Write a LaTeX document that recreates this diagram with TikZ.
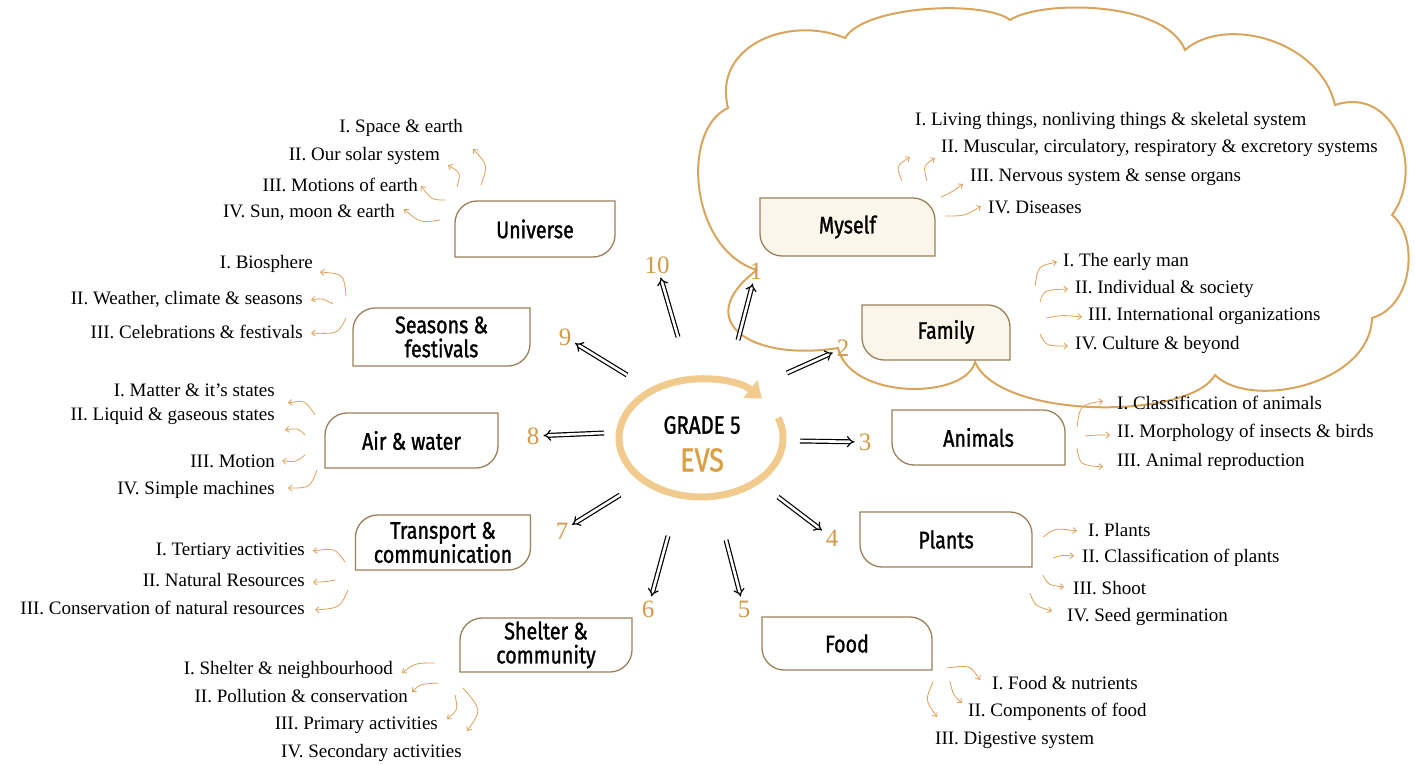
\documentclass[tikz,border=0pt]{standalone}
\usepackage{fontspec}
\setmainfont{Liberation Serif}
\newfontfamily\boxfont[FakeStretch=0.82,FakeBold=1.2]{Fira Sans}
\usetikzlibrary{arrows.meta,shapes.geometric}
\definecolor{ringc}{HTML}{F1CB8E}
\definecolor{numc}{HTML}{D49A48}
\definecolor{subc}{HTML}{E0A058}
\definecolor{cloudc}{HTML}{D9A55C}
\definecolor{boxc}{HTML}{9A8058}
\definecolor{evsc}{HTML}{D9A045}
\definecolor{cream}{HTML}{FCF6EA}
\tikzset{
 boxline/.style={draw=boxc, line width=1.3pt},
 bxframe/.style={inner sep=0pt, outer sep=0pt},
 lbl/.style={font=\boxfont\fontsize{24}{24}\selectfont, align=center, inner sep=0pt},
 item/.style={font=\fontsize{19}{21}\selectfont, inner sep=0pt},
 num/.style={font=\fontsize{25}{25}\selectfont, text=numc, inner sep=2pt},
 dbl/.style={double, double distance=2.6pt, line width=1.2pt, -{Implies}, shorten >=2pt},
 sub/.style={draw=subc, line width=0.8pt, -{Straight Barb[length=3.5pt,width=6pt]}},
}
% top-left and bottom-right rounded
\newcommand\lshape[2][white]{%
 \draw[boxline, fill=#1] (#2.south west) -- ([yshift=-22pt]#2.north west)
  .. controls ([yshift=-10pt]#2.north west) and ([xshift=10pt]#2.north west) .. ([xshift=22pt]#2.north west)
  -- (#2.north east) -- ([yshift=22pt]#2.south east)
  .. controls ([yshift=10pt]#2.south east) and ([xshift=-10pt]#2.south east) .. ([xshift=-22pt]#2.south east) -- cycle;}
% top-right and bottom-left rounded
\newcommand\rshape[2][white]{%
 \draw[boxline, fill=#1] (#2.north west) -- ([xshift=-22pt]#2.north east)
  .. controls ([xshift=-10pt]#2.north east) and ([yshift=-10pt]#2.north east) .. ([yshift=-22pt]#2.north east)
  -- (#2.south east) -- ([xshift=22pt]#2.south west)
  .. controls ([xshift=10pt]#2.south west) and ([yshift=10pt]#2.south west) .. ([yshift=22pt]#2.south west) -- cycle;}
\begin{document}
\begin{tikzpicture}[x=1pt,y=1pt]
\fill[white] (0,0) rectangle (1415,-765);
\useasboundingbox (0,0) rectangle (1415,-765);

% cloud
\draw[cloudc, line width=2pt] (757,-270)
 .. controls (690,-250) and (680,-130) .. (728,-108)
 .. controls (712,-45) and (790,-15) .. (845,-38)
 .. controls (865,-5) and (985,0) .. (1010,-20)
 .. controls (1040,0) and (1165,0) .. (1185,-50)
 .. controls (1225,-15) and (1320,-40) .. (1335,-105)
 .. controls (1395,-85) and (1425,-170) .. (1392,-215)
 .. controls (1418,-235) and (1415,-305) .. (1372,-318)
 .. controls (1370,-385) and (1250,-410) .. (1215,-375)
 .. controls (1190,-420) and (1000,-420) .. (975,-362)
 .. controls (965,-400) and (850,-400) .. (838,-348)
 .. controls (750,-362) and (690,-320) .. (757,-270);

% centre ring
\draw[ringc, line width=7pt, -{Triangle[length=15pt,width=22pt]}]
 (778.1,-417.8) arc[start angle=20, end angle=-318, x radius=82pt, y radius=59pt];
\node[font=\boxfont\fontsize{25}{25}\selectfont, inner sep=0pt] (grade) at (702,-425) {GRADE 5};
\node[font=\boxfont\fontsize{33}{33}\selectfont, text=evsc, inner sep=0pt] (evs) at (702,-460) {EVS};

% boxes
\node[bxframe, minimum width=160pt, minimum height=56pt] (universe) at (535,-229) {};
\lshape{universe}
\node[lbl] (universe-t) at (universe) {Universe};
\node[bxframe, minimum width=175pt, minimum height=58pt] (myself) at (847.5,-227) {};
\rshape[cream]{myself}
\node[lbl] (myself-t) at (myself) {Myself};
\node[bxframe, minimum width=177pt, minimum height=58pt] (seasons) at (441.5,-337) {};
\lshape{seasons}
\node[lbl] (seasons-t) at (seasons) {Seasons \&\\festivals};
\node[bxframe, minimum width=148pt, minimum height=55pt] (family) at (936,-332.5) {};
\rshape[cream]{family}
\node[lbl] (family-t) at (946,-332) {Family};
\node[bxframe, minimum width=173pt, minimum height=55pt] (air) at (411.5,-440.5) {};
\lshape{air}
\node[lbl] (air-t) at (air) {Air \& water};
\node[bxframe, minimum width=173pt, minimum height=55pt] (animals) at (978.5,-437.5) {};
\rshape{animals}
\node[lbl] (animals-t) at (animals) {Animals};
\node[bxframe, minimum width=175pt, minimum height=55pt] (transport) at (443,-542.5) {};
\lshape{transport}
\node[lbl] (transport-t) at (transport) {Transport \&\\communication};
\node[bxframe, minimum width=172pt, minimum height=55pt] (plants) at (946,-539.5) {};
\rshape{plants}
\node[lbl] (plants-t) at (plants) {Plants};
\node[bxframe, minimum width=172pt, minimum height=54pt] (shelter) at (546,-645) {};
\lshape{shelter}
\node[lbl] (shelter-t) at (shelter) {Shelter \&\\community};
\node[bxframe, minimum width=170pt, minimum height=53pt] (food) at (847,-643.5) {};
\rshape{food}
\node[lbl] (food-t) at (food) {Food};

% numbers
\node[num] (n1) at (756,-271) {1};
\node[num] (n2) at (843,-348) {2};
\node[num] (n3) at (865,-442) {3};
\node[num] (n4) at (832,-538) {4};
\node[num] (n5) at (744,-609) {5};
\node[num] (n6) at (648,-609) {6};
\node[num] (n7) at (562,-531) {7};
\node[num] (n8) at (533,-436) {8};
\node[num] (n9) at (565,-337) {9};
\node[num] (n10) at (657,-265) {10};

% double arrows
\coordinate (s1) at (738,-340);
\coordinate (s2) at (787,-373);
\coordinate (s3) at (800,-441);
\coordinate (s4) at (778,-497);
\coordinate (s5) at (726,-540);
\coordinate (s6) at (668,-536);
\coordinate (s7) at (620,-495);
\coordinate (s8) at (604,-433);
\coordinate (s9) at (627,-375);
\coordinate (s10) at (678,-337);
\foreach \i in {1,...,10} {\draw[dbl] (s\i) -- (n\i);}

% Universe items
\node[item, anchor=east] (u1) at (463,-128) {I. Space \& earth};
\node[item, anchor=east] (u2) at (440,-156) {II. Our solar system};
\node[item, anchor=east] (u3) at (418,-185) {III. Motions of earth};
\node[item, anchor=east] (u4) at (395,-212) {IV. Sun, moon \& earth};
\draw[sub] (481,-185) .. controls (488,-165) .. ([shift={(10,-21)}]u1.east);
\draw[sub] (457,-187) .. controls (461,-173) .. ([shift={(8,-9)}]u2.east);
\draw[sub] (445,-200) .. controls (432,-200) .. ([shift={(3,-1)}]u3.east);
\draw[sub] (440,-220) .. controls (420,-223) .. ([shift={(9,3)}]u4.east);

% Myself items
\node[item, anchor=west] (m1) at (915,-121) {I. Living things, nonliving things \& skeletal system};
\node[item, anchor=west] (m2) at (941,-148) {II. Muscular, circulatory, respiratory \& excretory systems};
\node[item, anchor=west] (m3) at (970,-177) {III. Nervous system \& sense organs};
\node[item, anchor=west] (m4) at (988,-207) {IV. Diseases};
\draw[sub] (902,-181) .. controls (896,-166) .. ([shift={(-5,-36)}]m1.west);
\draw[sub] (927,-181) .. controls (923,-166) .. ([shift={(-6,-10)}]m2.west);
\draw[sub] (941,-197) .. controls (952,-192) .. ([shift={(-7,-7)}]m3.west);
\draw[sub] (945,-216) .. controls (965,-216) .. ([shift={(-7,1)}]m4.west);

% Family items
\node[item, anchor=west] (f1) at (1063,-262) {I. The early man};
\node[item, anchor=west] (f2) at (1075,-289) {II. Individual \& society};
\node[item, anchor=west] (f3) at (1088,-316) {III. International organizations};
\node[item, anchor=west] (f4) at (1075,-345) {IV. Culture \& beyond};
\draw[sub] (1035,-286) .. controls (1038,-266) .. ([shift={(-6,0)}]f1.west);
\draw[sub] (1040,-302) .. controls (1044,-290) .. ([shift={(-7,0)}]f2.west);
\draw[sub] (1046,-318) .. controls (1062,-315) .. ([shift={(-6,-1)}]f3.west);
\draw[sub] (1040,-334) .. controls (1046,-346) .. ([shift={(-7,-1)}]f4.west);

% Seasons items
\node[item, anchor=east] (se1) at (313,-264) {I. Biosphere};
\node[item, anchor=east] (se2) at (303,-299) {II. Weather, climate \& seasons};
\node[item, anchor=east] (se3) at (303,-332) {III. Celebrations \& festivals};
\draw[sub] (346,-296) .. controls (344,-274) .. ([shift={(7,-8)}]se1.east);
\draw[sub] (333,-304) .. controls (322,-298) .. ([shift={(8,-1)}]se2.east);
\draw[sub] (346,-318) .. controls (338,-334) .. ([shift={(8,-1)}]se3.east);

% Air & water items
\node[item, anchor=east] (w1) at (275,-390) {I. Matter \& it's states};
\node[item, anchor=east] (w2) at (275,-416) {II. Liquid \& gaseous states};
\node[item, anchor=east] (w3) at (275,-461) {III. Motion};
\node[item, anchor=east] (w4) at (275,-490) {IV. Simple machines};
\draw[sub] (315,-415) .. controls (305,-400) .. ([shift={(13,-13)}]w1.east);
\draw[sub] (305,-435) .. controls (298,-428) .. ([shift={(10,-14)}]w2.east);
\draw[sub] (305,-455) .. controls (296,-462) .. ([shift={(7,0)}]w3.east);
\draw[sub] (317,-470) .. controls (310,-488) .. ([shift={(13,2)}]w4.east);

% Animals items
\node[item, anchor=west] (a1) at (1117,-403) {I. Classification of animals};
\node[item, anchor=west] (a2) at (1117,-433) {II. Morphology of insects \& birds};
\node[item, anchor=west] (a3) at (1117,-462) {III. Animal reproduction};
\draw[sub] (1077,-427) .. controls (1080,-405) .. ([shift={(-14,2)}]a1.west);
\draw[sub] (1085,-436) .. controls (1095,-435) .. ([shift={(-7,-2)}]a2.west);
\draw[sub] (1077,-448) .. controls (1080,-465) .. ([shift={(-14,-5)}]a3.west);

% Transport items
\node[item, anchor=east] (t1) at (305,-551) {I. Tertiary activities};
\node[item, anchor=east] (t2) at (305,-580) {II. Natural Resources};
\node[item, anchor=east] (t3) at (305,-608) {III. Conservation of natural resources};
\draw[sub] (345,-562) .. controls (335,-548) .. ([shift={(8,0)}]t1.east);
\draw[sub] (335,-580) .. controls (325,-582) .. ([shift={(8,-2)}]t2.east);
\draw[sub] (348,-590) .. controls (340,-608) .. ([shift={(10,-2)}]t3.east);

% Plants items
\node[item, anchor=west] (p1) at (1088,-530) {I. Plants};
\node[item, anchor=west] (p2) at (1082,-558) {II. Classification of plants};
\node[item, anchor=west] (p3) at (1073,-588) {III. Shoot};
\node[item, anchor=west] (p4) at (1067,-617) {IV. Seed germination};
\draw[sub] (1043,-537) .. controls (1055,-528) .. ([shift={(-11,-1)}]p1.west);
\draw[sub] (1053,-558) .. controls (1062,-555) .. ([shift={(-8,2)}]p2.west);
\draw[sub] (1043,-575) .. controls (1048,-585) .. ([shift={(-9,1)}]p3.west);
\draw[sub] (1030,-593) .. controls (1035,-606) .. ([shift={(-15,6)}]p4.west);

% Shelter items
\node[item, anchor=east] (h1) at (393,-670) {I. Shelter \& neighbourhood};
\node[item, anchor=east] (h2) at (408,-696) {II. Pollution \& conservation};
\node[item, anchor=east] (h3) at (438,-725) {III. Primary activities};
\node[item, anchor=east] (h4) at (462,-753) {IV. Secondary activities};
\draw[sub] (435,-663) .. controls (415,-663) .. ([shift={(9,-3)}]h1.east);
\draw[sub] (438,-683) .. controls (420,-684) .. ([shift={(4,4)}]h2.east);
\draw[sub] (455,-695) .. controls (458,-710) .. ([shift={(9,6)}]h3.east);
\draw[sub] (463,-688) .. controls (482,-710) .. ([shift={(5,22)}]h4.east);

% Food items
\node[item, anchor=west] (d1) at (992,-683) {I. Food \& nutrients};
\node[item, anchor=west] (d2) at (968,-712) {II. Components of food};
\node[item, anchor=west] (d3) at (935,-740) {III. Digestive system};
\draw[sub] (947,-668) .. controls (970,-665) .. ([shift={(-12,3)}]d1.west);
\draw[sub] (950,-681) .. controls (953,-695) .. ([shift={(-6,9)}]d2.west);
\draw[sub] (933,-682) .. controls (925,-700) .. ([shift={(2,23)}]d3.west);
\end{tikzpicture}
\end{document}
